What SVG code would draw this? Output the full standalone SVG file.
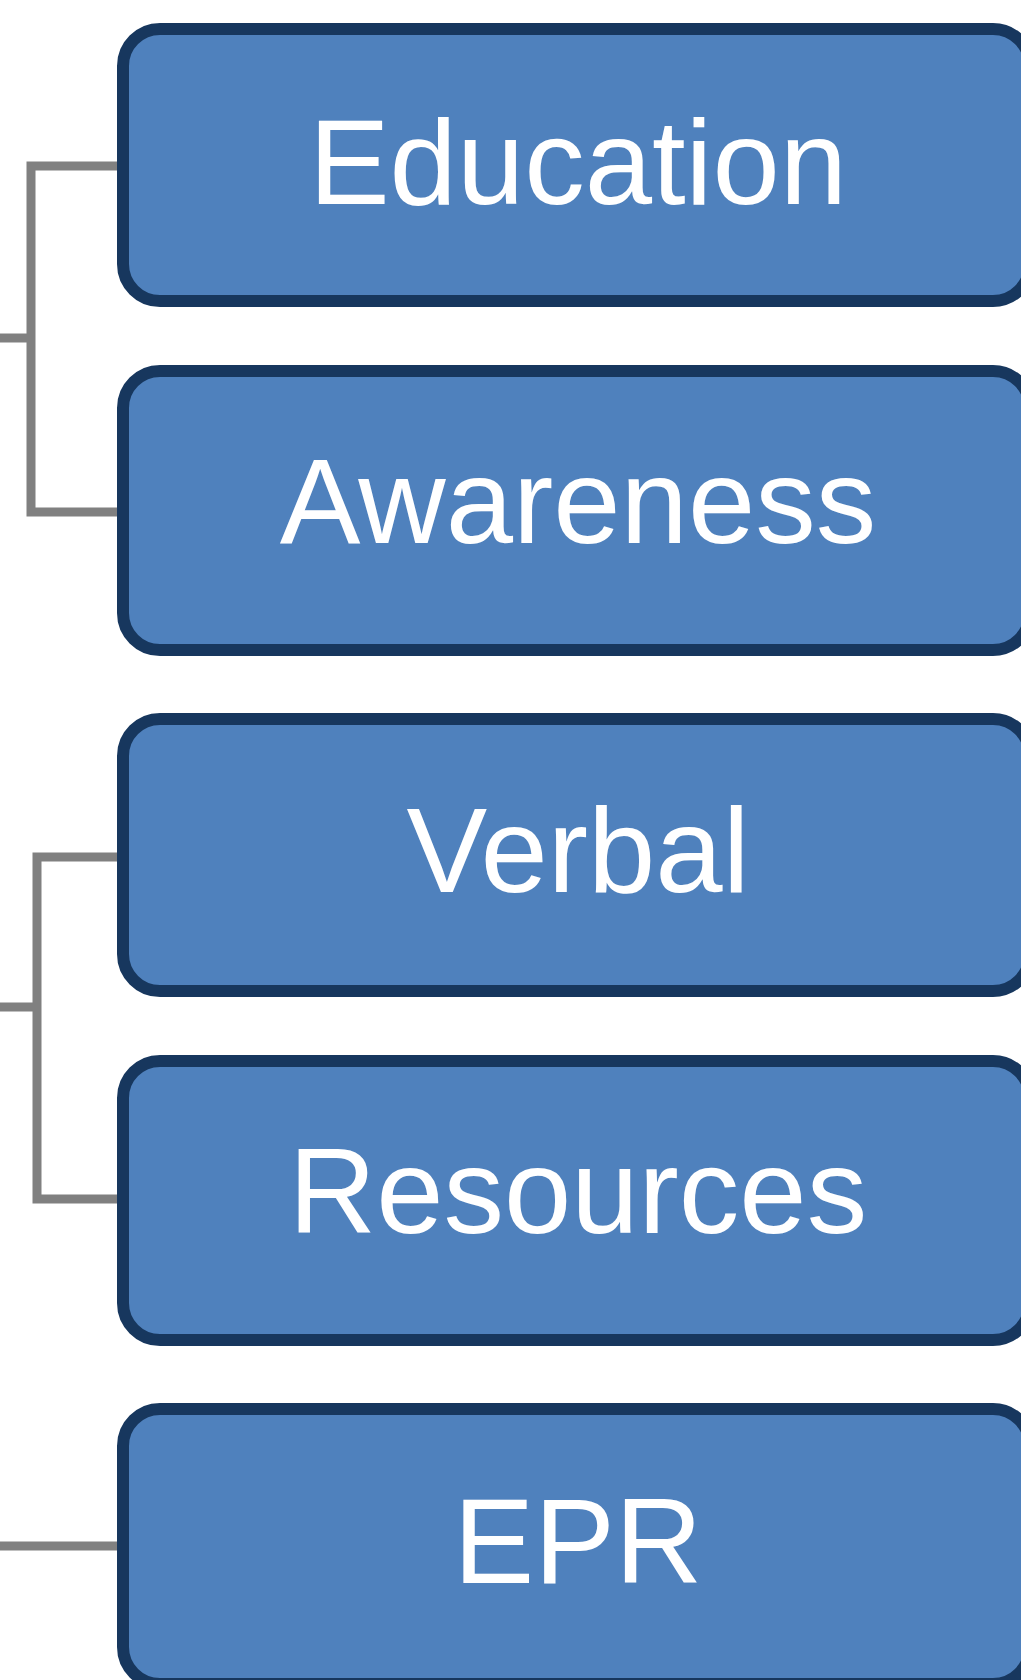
<svg xmlns="http://www.w3.org/2000/svg" width="1021" height="1680" viewBox="0 0 1021 1680">
  <style>
    .box { fill: #4F81BD; stroke: #17375E; stroke-width: 12; }
    .lbl { fill: #FFFFFF; font-family: "Liberation Sans", Arial, sans-serif; font-size: 121px; text-anchor: middle; }
    .conn { fill: none; stroke: #808080; stroke-width: 9; stroke-linejoin: miter; stroke-linecap: butt; }
  </style>
  <rect width="1021" height="1680" fill="#FFFFFF"/>
  <g id="connectors">
    <path class="conn" d="M0,338 H31"/>
    <path class="conn" d="M121,166 H31 V512 H121"/>
    <path class="conn" d="M0,1007 H37"/>
    <path class="conn" d="M121,857 H37 V1199 H121"/>
    <path class="conn" d="M0,1546 H121"/>
  </g>
  <g id="node-education">
    <rect class="box" x="123" y="29" width="907" height="272" rx="37" ry="37"/>
    <text class="lbl" x="578" y="203.5">Education</text>
  </g>
  <g id="node-awareness">
    <rect class="box" x="123" y="371" width="907" height="279" rx="37" ry="37"/>
    <text class="lbl" x="578" y="543">Awareness</text>
  </g>
  <g id="node-verbal">
    <rect class="box" x="123" y="719" width="907" height="272" rx="37" ry="37"/>
    <text class="lbl" x="578" y="892">Verbal</text>
  </g>
  <g id="node-resources">
    <rect class="box" x="123" y="1061" width="907" height="279" rx="37" ry="37"/>
    <text class="lbl" x="578" y="1233">Resources</text>
  </g>
  <g id="node-epr">
    <rect class="box" x="123" y="1409" width="907" height="275" rx="37" ry="37"/>
    <text class="lbl" x="578" y="1583">EPR</text>
  </g>
</svg>
